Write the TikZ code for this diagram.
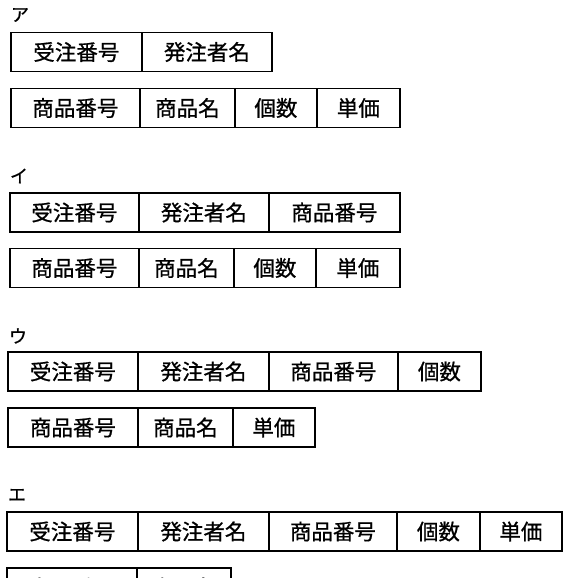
\documentclass[tikz,border=0pt]{standalone}
\usepackage{fontspec}
\setmainfont{Noto Sans CJK JP}[FakeBold=0.8]
\tikzset{cell/.style={draw, line width=1.8pt, anchor=west, inner sep=0pt, minimum height=39pt, font=\fontsize{21.5}{25}\selectfont},
  choice/.style={font=\fontsize{18}{21}\selectfont}}

\begin{document}
\begin{tikzpicture}[x=1pt, y=-1pt]
\useasboundingbox (0,0) rectangle (564,578);
\clip (0,0) rectangle (564,578);
% ア
\node[choice] (la) at (20,15) {ア};
\node[cell, minimum width=131pt] (a11) at (10,52) {受注番号};
\node[cell, minimum width=130pt] (a12) at (141,52) {発注者名};
\node[cell, minimum width=129pt] (a21) at (10,108) {商品番号};
\node[cell, minimum width=95pt] (a22) at (139,108) {商品名};
\node[cell, minimum width=82pt] (a23) at (234,108) {個数};
\node[cell, minimum width=83pt] (a24) at (316,108) {単価};
% イ
\node[choice] (li) at (19,176) {イ};
\node[cell, minimum width=129pt] (i11) at (9,212.5) {受注番号};
\node[cell, minimum width=130pt] (i12) at (138,212.5) {発注者名};
\node[cell, minimum width=131pt] (i13) at (268,212.5) {商品番号};
\node[cell, minimum width=129pt] (i21) at (9,268) {商品番号};
\node[cell, minimum width=95pt] (i22) at (138,268) {商品名};
\node[cell, minimum width=82pt] (i23) at (233,268) {個数};
\node[cell, minimum width=84pt] (i24) at (315,268) {単価};
% ウ
\node[choice] (lu) at (18,336) {ウ};
\node[cell, minimum width=130pt] (u11) at (7,371.5) {受注番号};
\node[cell, minimum width=131pt] (u12) at (137,371.5) {発注者名};
\node[cell, minimum width=129pt] (u13) at (268,371.5) {商品番号};
\node[cell, minimum width=83pt] (u14) at (397,371.5) {個数};
\node[cell, minimum width=130pt] (u21) at (7,427.5) {商品番号};
\node[cell, minimum width=95pt] (u22) at (137,427.5) {商品名};
\node[cell, minimum width=82pt] (u23) at (232,427.5) {単価};
% エ
\node[choice] (le) at (17,495) {エ};
\node[cell, minimum width=131pt] (e11) at (6,531.5) {受注番号};
\node[cell, minimum width=131pt] (e12) at (137,531.5) {発注者名};
\node[cell, minimum width=128pt] (e13) at (268,531.5) {商品番号};
\node[cell, minimum width=83pt] (e14) at (396,531.5) {個数};
\node[cell, minimum width=82pt] (e15) at (479,531.5) {単価};
\node[cell, minimum width=130pt] (e21) at (6,587.5) {商品番号};
\node[cell, minimum width=94pt] (e22) at (136,587.5) {商品名};
\end{tikzpicture}
\end{document}
